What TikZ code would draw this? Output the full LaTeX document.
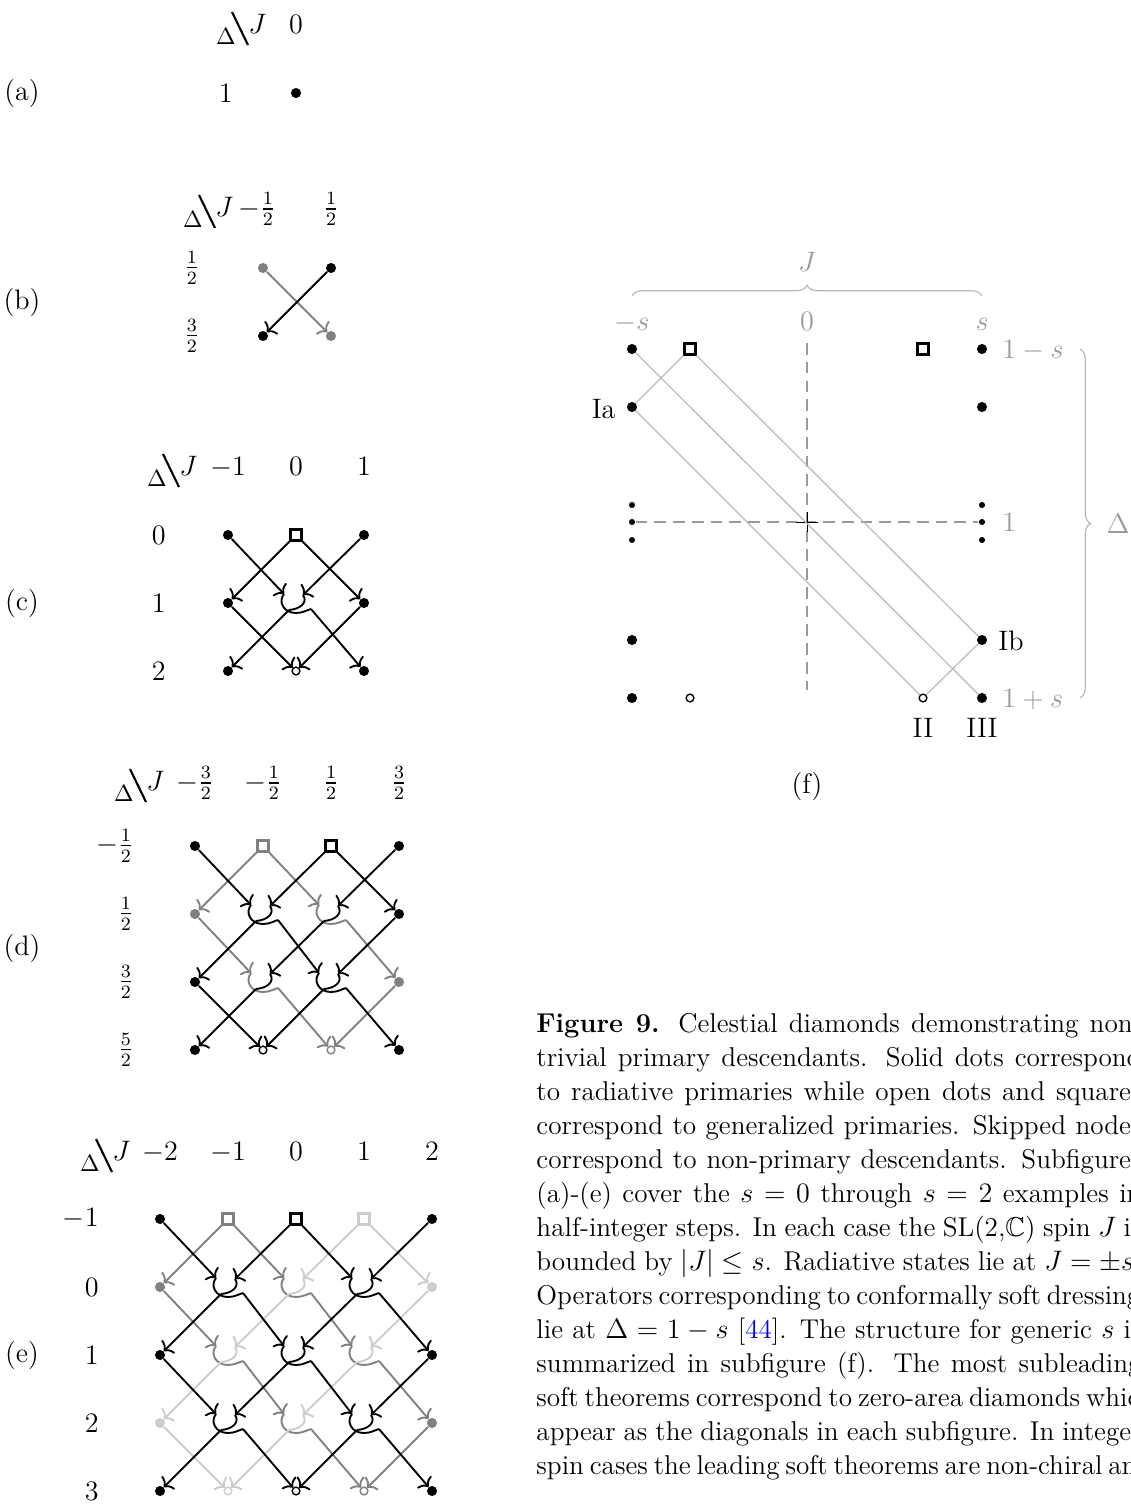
\documentclass[tikz,border=0pt,12pt]{standalone}
\usepackage{amsfonts}
\usepackage{amsmath}
\usepackage{amssymb}
\usetikzlibrary{calc,arrows.meta,decorations.pathreplacing}

\definecolor{mgray}{gray}{0.5}
\definecolor{lgray}{gray}{0.8}
\definecolor{fgray}{gray}{0.6}
\definecolor{fline}{gray}{0.72}

% corner label Delta \ J: name, left end of J on its baseline
\newcommand{\dJhead}[2]{%
  \coordinate (#1) at #2;
  \node[anchor=base west,inner sep=0pt] (#1J) at (#1) {$J$};
  \node[anchor=base,inner sep=0pt,font=\footnotesize] (#1D) at ($(#1)+(-22,11)$) {$\Delta$};
  \draw[line width=0.9pt] ($(#1)+(-16,-21)$) -- ($(#1)+(0,12)$);
}

% skipped node: name, position, colour of line from upper left, colour of line from upper right
\newcommand{\skipnd}[4]{%
  \coordinate (#1) at #2;
  \coordinate (#1iL) at ($(#1)+(-12,-9)$);
  \coordinate (#1iR) at ($(#1)+(7,-8)$);
  \coordinate (#1oL) at ($(#1)+(-7,7)$);
  \coordinate (#1oR) at ($(#1)+(15,6)$);
  \draw[skipline=#3] (#1iL) .. controls ($(#1)+(-18,-2)$) and ($(#1)+(-13,10)$) .. ($(#1)+(0,10)$)
    .. controls ($(#1)+(7,10)$) and ($(#1)+(11,7)$) .. (#1oR);
  \draw[skipline=#4] (#1iR) .. controls ($(#1)+(12,-1)$) and ($(#1)+(5,6)$) .. (#1oL);
}

\newcommand{\capline}[1]{\hbox to 258pt{#1}}

\begin{document}
\begin{tikzpicture}[x=0.4264pt,y=-0.4264pt]
\tikzset{
  pdot/.style={circle,fill=#1,inner sep=0pt,minimum size=4.3pt},
  pdot/.default=black,
  sdot/.style={circle,fill=black,inner sep=0pt,minimum size=2.6pt},
  psq/.style={rectangle,draw=#1,fill=white,line width=1pt,inner sep=0pt,minimum size=4.6pt},
  psq/.default=black,
  pcirc/.style={circle,draw=#1,fill=white,line width=0.6pt,inner sep=0pt,minimum size=3.3pt},
  pcirc/.default=black,
  arr/.style={draw=#1,line width=0.8pt,-{To[length=3pt,width=8pt]}},
  arr/.default=black,
  skipline/.style={draw=#1,line width=0.8pt},
  hd/.style={anchor=base},
  rl/.style={anchor=east,inner sep=0pt},
  fl/.style={draw=fline,line width=0.5pt},
  flab/.style={text=fgray},
  brc/.style={draw=fline,line width=0.5pt,decorate,decoration={brace,amplitude=4.5pt}}
}
\useasboundingbox (0,0) rectangle (1130,1504);

% (a)
\node (la) at (22,93) {(a)};
\dJhead{ha}{(248,33)}
\node[hd] (ha0) at (296,33) {$0$};
\node[rl] (ra0) at (233,93) {$1$};
\node[pdot] (a00) at (296,93) {};

% (b)
\node (lb) at (22,302) {(b)};
\dJhead{hb}{(215,216)}
\node[hd] (hb0) at (257,216) {$-\frac{1}{2}$};
\node[hd] (hb1) at (331,216) {$\frac{1}{2}$};
\node[rl] (rb0) at (200,268) {$\frac{1}{2}$};
\node[rl] (rb1) at (200,336) {$\frac{3}{2}$};
\node[pdot=mgray] (b00) at (263,268) {};
\node[pdot] (b10) at (331,268) {};
\node[pdot] (b01) at (263,336) {};
\node[pdot=mgray] (b11) at (331,336) {};
\draw[arr=mgray] (b00) -- (b11);
\draw[arr] (b10) -- (b01);

% (c)
\node (lc) at (22,603) {(c)};
\dJhead{hc}{(179,475)}
\foreach \i/\t in {0/-1,1/0,2/1}
  \node[hd] (hc\i) at ({228+68*\i},475) {$\t$};
\foreach \k/\t in {0/0,1/1,2/2}
  \node[rl] (rc\k) at (166,{535+68*\k}) {$\t$};
\node[pdot] (c00) at (228,535) {};
\node[psq] (c10) at (296,535) {};
\node[pdot] (c20) at (364,535) {};
\node[pdot] (c01) at (228,603) {};
\skipnd{c11}{(296,603)}{black}{black}
\node[pdot] (c21) at (364,603) {};
\node[pdot] (c02) at (228,671) {};
\node[pcirc] (c12) at (296,671) {};
\node[pdot] (c22) at (364,671) {};

\foreach \from/\to in {c00/c11iL,c10/c01,c10/c21,c20/c11iR,c01/c12,c11oL/c02,c11oR/c22,c21/c12}
  \draw[arr] (\from) -- (\to);

% (d)
\node (ld) at (22,948) {(d)};
\dJhead{hd}{(146,790)}
\foreach \i/\t in {0/-\frac{3}{2},1/-\frac{1}{2},2/\frac{1}{2},3/\frac{3}{2}}
  \node[hd] (hd\i) at ({195+68*\i},790) {$\t$};
\foreach \k/\t in {0/-\frac{1}{2},1/\frac{1}{2},2/\frac{3}{2},3/\frac{5}{2}}
  \node[rl] (rd\k) at (134,{846+68*\k}) {$\t$};
\node[pdot] (d00) at (195,846) {};
\node[psq=mgray] (d10) at (263,846) {};
\node[psq] (d20) at (331,846) {};
\node[pdot] (d30) at (399,846) {};
\node[pdot=mgray] (d01) at (195,914) {};
\skipnd{d11}{(263,914)}{black}{black}
\skipnd{d21}{(331,914)}{mgray}{black}
\node[pdot] (d31) at (399,914) {};
\node[pdot] (d02) at (195,982) {};
\skipnd{d12}{(263,982)}{mgray}{black}
\skipnd{d22}{(331,982)}{black}{black}
\node[pdot=mgray] (d32) at (399,982) {};
\node[pdot] (d03) at (195,1050) {};
\node[pcirc] (d13) at (263,1050) {};
\node[pcirc=mgray] (d23) at (331,1050) {};
\node[pdot] (d33) at (399,1050) {};

\foreach \from/\to in {d10/d21iL,d21oR/d32,d10/d01,d01/d12iL,d12oR/d23,d32/d23}
  \draw[arr=mgray] (\from) -- (\to);
\foreach \from/\to in {d00/d11iL,d11oR/d22iL,d22oR/d33,d20/d31,d20/d11iR,d11oL/d02,
    d30/d21iR,d21oL/d12iR,d12oL/d03,d31/d22iR,d22oL/d13,d02/d13}
  \draw[arr] (\from) -- (\to);

% (e)
\node (le) at (22,1355) {(e)};
\dJhead{he}{(112,1160)}
\foreach \i/\t in {0/-2,1/-1,2/0,3/1,4/2}
  \node[hd] (he\i) at ({160+68*\i},1160) {$\t$};
\foreach \k/\t in {0/-1,1/0,2/1,3/2,4/3}
  \node[rl] (re\k) at (99,{1219+68*\k}) {$\t$};
\node[pdot] (e00) at (160,1219) {};
\node[psq=mgray] (e10) at (228,1219) {};
\node[psq] (e20) at (296,1219) {};
\node[psq=lgray] (e30) at (364,1219) {};
\node[pdot] (e40) at (432,1219) {};
\node[pdot=mgray] (e01) at (160,1287) {};
\skipnd{e11}{(228,1287)}{black}{black}
\skipnd{e21}{(296,1287)}{mgray}{lgray}
\skipnd{e31}{(364,1287)}{black}{black}
\node[pdot=lgray] (e41) at (432,1287) {};
\node[pdot] (e02) at (160,1355) {};
\skipnd{e12}{(228,1355)}{mgray}{lgray}
\skipnd{e22}{(296,1355)}{black}{black}
\skipnd{e32}{(364,1355)}{mgray}{lgray}
\node[pdot] (e42) at (432,1355) {};
\node[pdot=lgray] (e03) at (160,1423) {};
\skipnd{e13}{(228,1423)}{black}{black}
\skipnd{e23}{(296,1423)}{mgray}{lgray}
\skipnd{e33}{(364,1423)}{black}{black}
\node[pdot=mgray] (e43) at (432,1423) {};
\node[pdot] (e04) at (160,1491) {};
\node[pcirc=lgray] (e14) at (228,1491) {};
\node[pcirc] (e24) at (296,1491) {};
\node[pcirc=mgray] (e34) at (364,1491) {};
\node[pdot] (e44) at (432,1491) {};

\foreach \from/\to in {e30/e41,e03/e14,e30/e21iR,e21oL/e12iR,e12oL/e03,e41/e32iR,e32oL/e23iR,e23oL/e14}
  \draw[arr=lgray] (\from) -- (\to);
\foreach \from/\to in {e10/e21iL,e21oR/e32iL,e32oR/e43,e01/e12iL,e12oR/e23iL,e23oR/e34,e10/e01,e43/e34}
  \draw[arr=mgray] (\from) -- (\to);
\foreach \from/\to in {e00/e11iL,e11oR/e22iL,e22oR/e33iL,e33oR/e44,e20/e31iL,e31oR/e42,e02/e13iL,e13oR/e24,
    e40/e31iR,e31oL/e22iR,e22oL/e13iR,e13oL/e04,e20/e11iR,e11oL/e02,e42/e33iR,e33oL/e24}
  \draw[arr] (\from) -- (\to);

% (f)
\node[flab] (fJ) at (807,262) {$J$};
\draw[brc] (632,296) -- (982,296);
\node[flab,hd] (fm) at (632,330) {$-s$};
\node[flab,hd] (fz) at (807,330) {$0$};
\node[flab,hd] (fs) at (982,330) {$s$};
\node[flab,anchor=base west,inner sep=0pt] (f1m) at (1002,358) {$1-s$};
\node[flab,anchor=base west,inner sep=0pt] (f1) at (1002,531) {$1$};
\node[flab,anchor=base west,inner sep=0pt] (f1p) at (1002,707) {$1+s$};
\draw[brc] (1080,349) -- (1080,698);
\node[flab] (fD) at (1118,524) {$\Delta$};

\coordinate (fVt) at (807,343);
\coordinate (fVb) at (807,690);
\coordinate (fO) at (807,522);
\foreach \y/\n in {505/1,522/2,540/3}
{
  \node[sdot] (fL\n) at (632,\y) {};
  \node[sdot] (fR\n) at (982,\y) {};
}
\draw[draw=fgray,line width=0.5pt,dash pattern=on 5pt off 3pt] (fVt) -- (fVb);
\draw[draw=fgray,line width=0.5pt,dash pattern=on 5pt off 3pt] (fL2) -- (fR2);
\draw[line width=0.4pt] ($(fO)+(-11,0)$) -- ($(fO)+(11,0)$);
\draw[line width=0.4pt] ($(fO)+(0,-10)$) -- ($(fO)+(0,10)$);

\node[pdot] (fa) at (632,349) {};
\node[psq] (fb) at (690,349) {};
\node[psq] (fc) at (923,349) {};
\node[pdot] (fd) at (982,349) {};
\node[pdot] (fIa) at (632,407) {};
\node[pdot] (fe) at (982,407) {};
\node[pdot] (ff) at (632,640) {};
\node[pdot] (fIb) at (982,640) {};
\node[pdot] (fg) at (632,698) {};
\node[pcirc] (fh) at (690,698) {};
\node[pcirc] (fII) at (923,698) {};
\node[pdot] (fIII) at (982,698) {};

\foreach \from/\to in {fa/fIII,fb/fIb,fIa/fII,fIa/fb,fII/fIb}
  \draw[fl] (\from) -- (\to);

\node[anchor=east,inner sep=0pt] (tIa) at (616,409) {Ia};
\node[anchor=west,inner sep=0pt] (tIb) at (998,641) {Ib};
\node (tII) at (923,728) {II};
\node (tIII) at (982,728) {III};
\node (lf) at (807,786) {(f)};

% caption
\node[anchor=north west,inner sep=0pt,font=\fontsize{11.6}{14.5}\selectfont] (cap) at (536,1013) {\vbox{\baselineskip=14.5pt
\capline{\textbf{Figure 9.} Celestial diamonds demonstrating non-}
\capline{trivial primary descendants. Solid dots correspond}
\capline{to radiative primaries while open dots and squares}
\capline{correspond to generalized primaries. Skipped nodes}
\capline{correspond to non-primary descendants. Subfigures}
\capline{(a)-(e) cover the $s=0$ through $s=2$ examples in}
\capline{half-integer steps. In each case the SL(2,$\mathbb{C}$) spin $J$ is}
\capline{bounded by $|J|\leq s$. Radiative states lie at $J=\pm s$.}
\capline{Operators corresponding to conformally soft dressings}
\capline{lie at $\Delta=1-s$ [\textcolor{blue}{44}]. The structure for generic $s$ is}
\capline{summarized in subfigure (f). The most subleading}
\capline{soft theorems correspond to zero-area diamonds which}
\capline{appear as the diagonals in each subfigure. In integer}
\capline{spin cases the leading soft theorems are non-chiral and}}};

\end{tikzpicture}
\end{document}
